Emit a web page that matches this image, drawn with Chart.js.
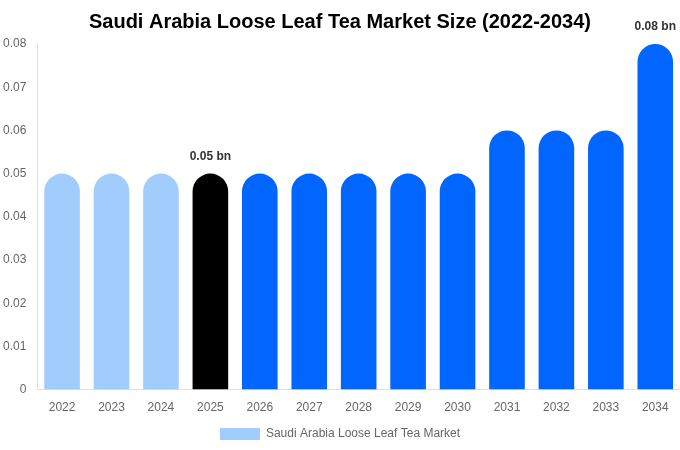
<!DOCTYPE html>
<html>
<head>
<meta charset="utf-8">
<script src="https://cdn.jsdelivr.net/npm/chart.js@4"></script>
<style>
  html, body { margin: 0; padding: 0; background: #fff; }
  #wrap { width: 680px; height: 450px; }
</style>
</head>
<body>
<div id="wrap"><canvas id="marketChart"></canvas></div>
<script>
// Chart data
const years = ['2022', '2023', '2024', '2025', '2026', '2027', '2028', '2029', '2030', '2031', '2032', '2033', '2034'];
const marketSize = [0.05, 0.05, 0.05, 0.05, 0.05, 0.05, 0.05, 0.05, 0.05, 0.06, 0.06, 0.06, 0.08];
const barColors = ['#a0cdfc', '#a0cdfc', '#a0cdfc', '#000000', '#0066ff', '#0066ff', '#0066ff', '#0066ff', '#0066ff', '#0066ff', '#0066ff', '#0066ff', '#0066ff'];
const labelledYears = ['2025', '2034'];

Chart.defaults.font.family = '"Liberation Sans", Arial, sans-serif';

// Draw "x bn" labels above selected bars
const valueLabels = {
    id: 'valueLabels',
    afterDatasetsDraw(chart) {
        const ctx = chart.ctx;
        const meta = chart.getDatasetMeta(0);
        ctx.save();
        ctx.font = 'bold 12px "Liberation Sans", Arial, sans-serif';
        ctx.fillStyle = '#333333';
        ctx.textAlign = 'center';
        ctx.textBaseline = 'middle';
        meta.data.forEach((bar, i) => {
            if (!labelledYears.includes(years[i])) return;
            ctx.fillText(marketSize[i].toFixed(2) + ' bn', bar.x, bar.y - 17);
        });
        ctx.restore();
    }
};

new Chart(document.getElementById('marketChart').getContext('2d'), {
    type: 'bar',
    data: {
        labels: years,
        datasets: [{
            label: 'Saudi Arabia Loose Leaf Tea Market',
            data: marketSize,
            backgroundColor: barColors,
            borderRadius: 100,
            borderSkipped: 'bottom',
            barPercentage: 0.9,
            categoryPercentage: 0.8
        }]
    },
    options: {
        responsive: true,
        maintainAspectRatio: false,
        animation: false,
        layout: { padding: 0 },
        plugins: {
            title: {
                display: true,
                text: 'Saudi Arabia Loose Leaf Tea Market Size (2022-2034)',
                color: '#000000',
                font: { size: 20, weight: 'bold' },
                padding: { top: 10, bottom: 10 }
            },
            legend: {
                position: 'bottom',
                labels: { color: '#666666', font: { size: 12 }, boxWidth: 40, boxHeight: 12 }
            },
            tooltip: { enabled: false }
        },
        scales: {
            x: {
                grid: { display: false },
                border: { color: '#e0e0e0' },
                ticks: { color: '#666666', font: { size: 12 } }
            },
            y: {
                min: 0,
                max: 0.08,
                grid: { display: false },
                border: { color: '#e0e0e0' },
                ticks: { stepSize: 0.01, color: '#666666', font: { size: 12 } }
            }
        }
    },
    plugins: [valueLabels]
});
</script>
</body>
</html>
